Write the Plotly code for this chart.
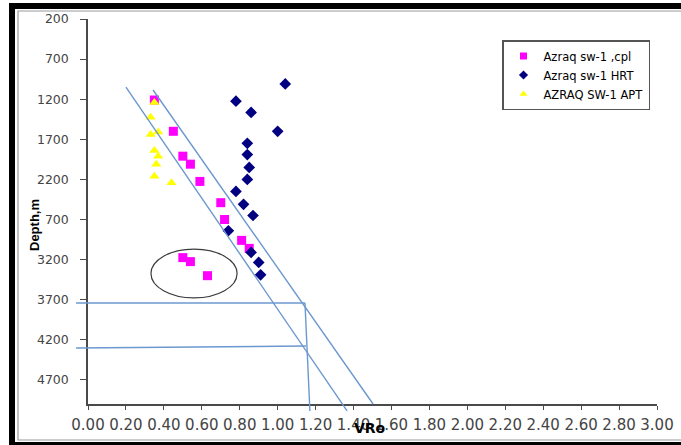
import plotly.graph_objects as go

# ---- data: vitrinite reflectance (VRo) against depth (m) ----
cpl_vro = [0.35, 0.45, 0.50, 0.54, 0.59, 0.70, 0.72, 0.81, 0.85, 0.50, 0.54, 0.63]
cpl_depth = [1210, 1600, 1910, 2010, 2225, 2490, 2700, 2960, 3060, 3175, 3225, 3400]

hrt_vro = [1.04, 0.78, 0.86, 1.00, 0.84, 0.84, 0.85, 0.84, 0.78, 0.82, 0.87, 0.74, 0.86, 0.90, 0.91]
hrt_depth = [1010, 1225, 1365, 1600, 1750, 1890, 2050, 2200, 2350, 2510, 2650, 2840, 3110, 3235, 3390]

apt_vro = [0.35, 0.33, 0.33, 0.37, 0.35, 0.37, 0.36, 0.35, 0.44]
apt_depth = [1240, 1425, 1640, 1610, 1840, 1910, 2010, 2160, 2240]

series_names = ["Azraq sw-1 ,cpl", "Azraq sw-1 HRT", "AZRAQ SW-1 APT"]

# trend band (two parallel lines) and read-off guide lines
band_lo_vro = [0.20, 1.366]
band_lo_depth = [1048, 5087]
band_hi_vro = [0.343, 1.503]
band_hi_depth = [1085, 5000]
guide_top_vro = [-0.063, 1.144]
guide_top_depth = [3741, 3741]
guide_low_vro = [-0.063, 1.149]
guide_low_depth = [4302, 4277]
guide_vert_vro = [1.144, 1.170]
guide_vert_depth = [3741, 5087]

# highlighted group (ellipse bounds)
ring_vro = [0.332, 0.786]
ring_depth = [3068, 3678]

x_tick_vals = [0.0, 0.2, 0.4, 0.6, 0.8, 1.0, 1.2, 1.4, 1.6, 1.8, 2.0, 2.2, 2.4, 2.6, 2.8, 3.0]
x_tick_text = ["0.00", "0.20", "0.40", "0.60", "0.80", "1.00", "1.20", "1.40", "1.60",
               "1.80", "2.00", "2.20", "2.40", "2.60", "2.80", "3.00"]
y_tick_vals = [200, 700, 1200, 1700, 2200, 2700, 3200, 3700, 4200, 4700]

# ---- page geometry (pixels) ----
W, H = 681, 445
PX_L, PX_R = 88, 657      # x = 0 .. 3
PX_T, PX_B = 19, 404      # depth 200 .. 5000
X_MIN, X_MAX = 0.0, 3.0
D_MIN, D_MAX = 200, 5000

x_per_px = (X_MAX - X_MIN) / (PX_R - PX_L)
d_per_px = (D_MAX - D_MIN) / (PX_B - PX_T)

AX_COL = "#4a4a4a"
LINE_COL = "#6c98cf"
FONT = "DejaVu Sans"

styles = [
    dict(symbol="square", color="#ff00ff"),
    dict(symbol="diamond", color="#000080"),
    dict(symbol="triangle-up", color="#ffff00"),
]

fig = go.Figure()

for xs, ys, name, st in zip([cpl_vro, hrt_vro, apt_vro], [cpl_depth, hrt_depth, apt_depth],
                            series_names, styles):
    fig.add_trace(go.Scatter(
        x=xs, y=ys, mode="markers", name=name, legendgroup=name, showlegend=False,
        marker=dict(size=9, **st),
    ))

# small legend keys for the three series
for name, st in zip(series_names, styles):
    fig.add_trace(go.Scatter(
        x=[None], y=[None], mode="markers", name=name, legendgroup=name,
        marker=dict(size=7, **st),
    ))

# lines live on a full-page overlay axis pair so they may run past the plot frame
for xs, ys in [(band_lo_vro, band_lo_depth), (band_hi_vro, band_hi_depth),
               (guide_top_vro, guide_top_depth), (guide_low_vro, guide_low_depth),
               (guide_vert_vro, guide_vert_depth)]:
    fig.add_trace(go.Scatter(
        x=xs, y=ys, mode="lines", xaxis="x2", yaxis="y2", showlegend=False,
        line=dict(color=LINE_COL, width=1.4), hoverinfo="skip",
    ))

x2_range = [X_MIN - PX_L * x_per_px, X_MAX + (W - PX_R) * x_per_px]
y2_range = [D_MAX + (H - PX_B) * d_per_px, D_MIN - PX_T * d_per_px]

fig.update_layout(
    width=W, height=H,
    margin=dict(l=0, r=0, t=0, b=0, autoexpand=False),
    paper_bgcolor="white",
    plot_bgcolor="rgba(0,0,0,0)",
    font=dict(family=FONT, color="#444444"),
    xaxis=dict(
        domain=[PX_L / W, PX_R / W], range=[X_MIN, X_MAX],
        tickvals=x_tick_vals, ticktext=x_tick_text,
        showgrid=False, zeroline=False, showline=True, linecolor=AX_COL, linewidth=1.5,
        ticks="outside", ticklen=4, tickcolor=AX_COL, tickwidth=1.2,
        tickfont=dict(family=FONT, size=15, color="#444444"), ticklabelstandoff=2,
        anchor="y",
    ),
    yaxis=dict(
        domain=[1 - PX_B / H, 1 - PX_T / H], range=[D_MAX, D_MIN],
        tickvals=y_tick_vals,
        showgrid=False, zeroline=False, showline=True, linecolor=AX_COL, linewidth=1.5,
        ticks="outside", ticklen=6, tickcolor=AX_COL, tickwidth=1.2,
        tickfont=dict(family=FONT, size=12.5, color="#444444"), ticklabelstandoff=9,
        anchor="x",
    ),
    xaxis2=dict(domain=[0, 1], range=x2_range, visible=False, anchor="y2", fixedrange=True),
    yaxis2=dict(domain=[0, 1], range=y2_range, visible=False, anchor="x2", fixedrange=True),
    legend=dict(
        x=502 / W, y=1 - 40 / H, xanchor="left", yanchor="top",
        bgcolor="white", bordercolor="#555555", borderwidth=1.5,
        font=dict(family=FONT, size=11.5, color="black"),
        tracegroupgap=0, itemwidth=30,
    ),
    showlegend=True,
)

# circled group of points
fig.add_shape(type="circle", xref="x", yref="y",
              x0=ring_vro[0], x1=ring_vro[1], y0=ring_depth[0], y1=ring_depth[1],
              line=dict(color="#3c3c3c", width=1.2))

# page frame: heavy black edge with a thin inner grey rule
def px_rect(x0, y0, x1, y1, **kw):
    fig.add_shape(type="rect", xref="paper", yref="paper",
                  x0=x0 / W, x1=x1 / W, y0=1 - y1 / H, y1=1 - y0 / H, layer="above", **kw)

px_rect(9, 3, W, 9, fillcolor="black", line=dict(width=0))
px_rect(9, 3, 15, H, fillcolor="black", line=dict(width=0))
px_rect(9, 442, W, H, fillcolor="black", line=dict(width=0))
fig.add_shape(type="path", xref="paper", yref="paper",
              path=f"M {W / W} {1 - 11 / H} L {18 / W} {1 - 11 / H} L {18 / W} {1 - 440 / H} L {W / W} {1 - 440 / H}",
              line=dict(color="#9a9a9a", width=1.2), layer="above")

# axis titles
fig.add_annotation(x=370 / W, y=1 - 428 / H, xref="paper", yref="paper",
                   xanchor="center", yanchor="middle",
                   text="<b>VRo</b>", showarrow=False,
                   font=dict(family=FONT, size=14, color="black"))
fig.add_annotation(x=34 / W, y=1 - 225 / H, xref="paper", yref="paper",
                   xanchor="center", yanchor="middle",
                   text="<b>Depth,m</b>", showarrow=False, textangle=-90,
                   bgcolor="white", borderpad=3,
                   font=dict(family="Liberation Sans", size=13, color="black"))

fig.write_html("out.html")
